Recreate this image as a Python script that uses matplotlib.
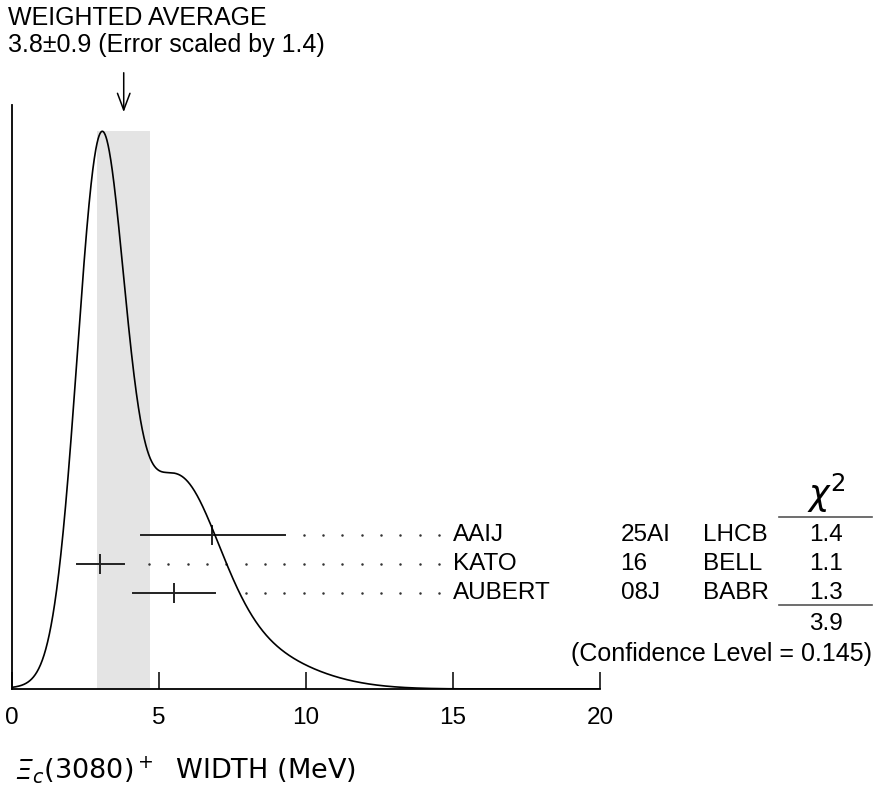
import numpy as np
import matplotlib
matplotlib.use('Agg')
import matplotlib.pyplot as plt

# ── data ──────────────────────────────────────────────────────────────────────
authors  = ["AAIJ", "KATO", "AUBERT"]
docs     = ["25AI", "16", "08J"]
tecns    = ["LHCB", "BELL", "BABR"]
values   = np.array([6.8, 3.0, 5.5])
err_lo   = np.array([2.4, 0.8, 1.4])
err_hi   = np.array([2.5, 0.8, 1.4])
chi2     = [1.4, 1.1, 1.3]
chi2_sum = 3.9
conf_lvl = 0.145
avg, avg_err, scale = 3.8, 0.9, 1.4

# ── ideogram: gaussians with area proportional to 1/sigma ────────────────────
x = np.linspace(0, 20, 2001)
sig = (err_lo + err_hi) / 2
ideo = np.zeros_like(x)
for v, s in zip(values, sig):
    ideo += np.exp(-0.5 * ((x - v) / s) ** 2) / s**2

FS = 17.5
plt.rcParams['font.family'] = ['Liberation Sans', 'DejaVu Sans']
fig = plt.figure(figsize=(8.74, 7.93), dpi=100)
ax = fig.add_axes([12/874, 104/793, 588/874, 584/793])

peak_frac = 0.955
ytop = ideo.max() / peak_frac
ax.set_xlim(0, 20)
ax.set_ylim(0, ytop)

ax.axvspan(avg - avg_err, avg + avg_err, ymin=0, ymax=peak_frac,
           color='#e4e4e4', lw=0, zorder=0)
ax.plot(x, ideo, color='black', lw=1.2, zorder=3)

# ── measurements ─────────────────────────────────────────────────────────────
tr = ax.get_xaxis_transform()
row_y = [0.264, 0.214, 0.164]
dot_end, dot_step = 14.52, 0.657
for i in range(len(authors)):
    y = row_y[i]
    lo, hi = values[i] - err_lo[i], values[i] + err_hi[i]
    ax.plot([lo, hi], [y, y], color='#222222', lw=1.4, transform=tr, zorder=2)
    ax.plot([values[i]], [y], marker='|', ms=15, mew=1.4, color='#222222',
            transform=tr, zorder=2)
    dots = np.arange(dot_end, hi + 0.5, -dot_step)
    ax.plot(dots, [y] * len(dots), ls='none', marker='.', ms=1.6,
            color='#333333', transform=tr, clip_on=False)
    ax.text(15.0, y, authors[i], fontsize=FS, va='center', ha='left',
            transform=tr, clip_on=False)
    ax.text(20.7, y, docs[i], fontsize=FS, va='center', ha='left',
            transform=tr, clip_on=False)
    ax.text(23.5, y, tecns[i], fontsize=FS, va='center', ha='left',
            transform=tr, clip_on=False)
    ax.text(27.7, y, f"{chi2[i]:.1f}", fontsize=FS, va='center', ha='center',
            transform=tr, clip_on=False)

# chi2 column
ax.text(27.7, 0.335, r'$\chi^2$', fontsize=25, va='center', ha='center',
        transform=tr, clip_on=False)
for ly in [0.295, 0.144]:
    ax.plot([26.1, 29.25], [ly, ly], color='#555555', lw=1.2,
            transform=tr, clip_on=False)
ax.text(27.7, 0.111, f"{chi2_sum:.1f}", fontsize=FS, va='center', ha='center',
        transform=tr, clip_on=False)
ax.text(29.25, 0.060, f"(Confidence Level = {conf_lvl})", fontsize=18,
        va='center', ha='right', transform=tr, clip_on=False)

# weighted average arrow + text
ax.annotate('', xy=(avg, 0.983), xytext=(avg, 1.06),
            xycoords=tr, textcoords=tr,
            arrowprops=dict(arrowstyle='->,head_length=1.2,head_width=0.45',
                            color='black', lw=1.1))
fig.text(8/874, 1 - 18/793, "WEIGHTED AVERAGE", fontsize=18, va='center')
fig.text(8/874, 1 - 45/793, f"{avg}\u00b1{avg_err} (Error scaled by {scale})",
         fontsize=18, va='center')

# ── axes styling ─────────────────────────────────────────────────────────────
for s in ['top', 'right']:
    ax.spines[s].set_visible(False)
ax.spines['left'].set_linewidth(1.3)
ax.spines['bottom'].set_linewidth(1.3)
ax.set_yticks([])
ax.set_xticks([0, 5, 10, 15, 20])
ax.tick_params(axis='x', direction='in', length=12, width=1.1, pad=13,
               labelsize=FS)

# x label: italic Xi followed by the rest
base_y = 1 - 779/793
t1 = fig.text(15/874, base_y, '\u039e', fontsize=19.5, style='italic',
              family='DejaVu Sans', va='baseline')
ax.annotate(r'$_c$(3080)$^+$  WIDTH (MeV)', xy=(1.0, base_y),
            xycoords=(t1, 'figure fraction'), fontsize=19.5,
            family='DejaVu Sans', va='baseline', ha='left',
            annotation_clip=False)

fig.savefig('out.png', dpi=100)
